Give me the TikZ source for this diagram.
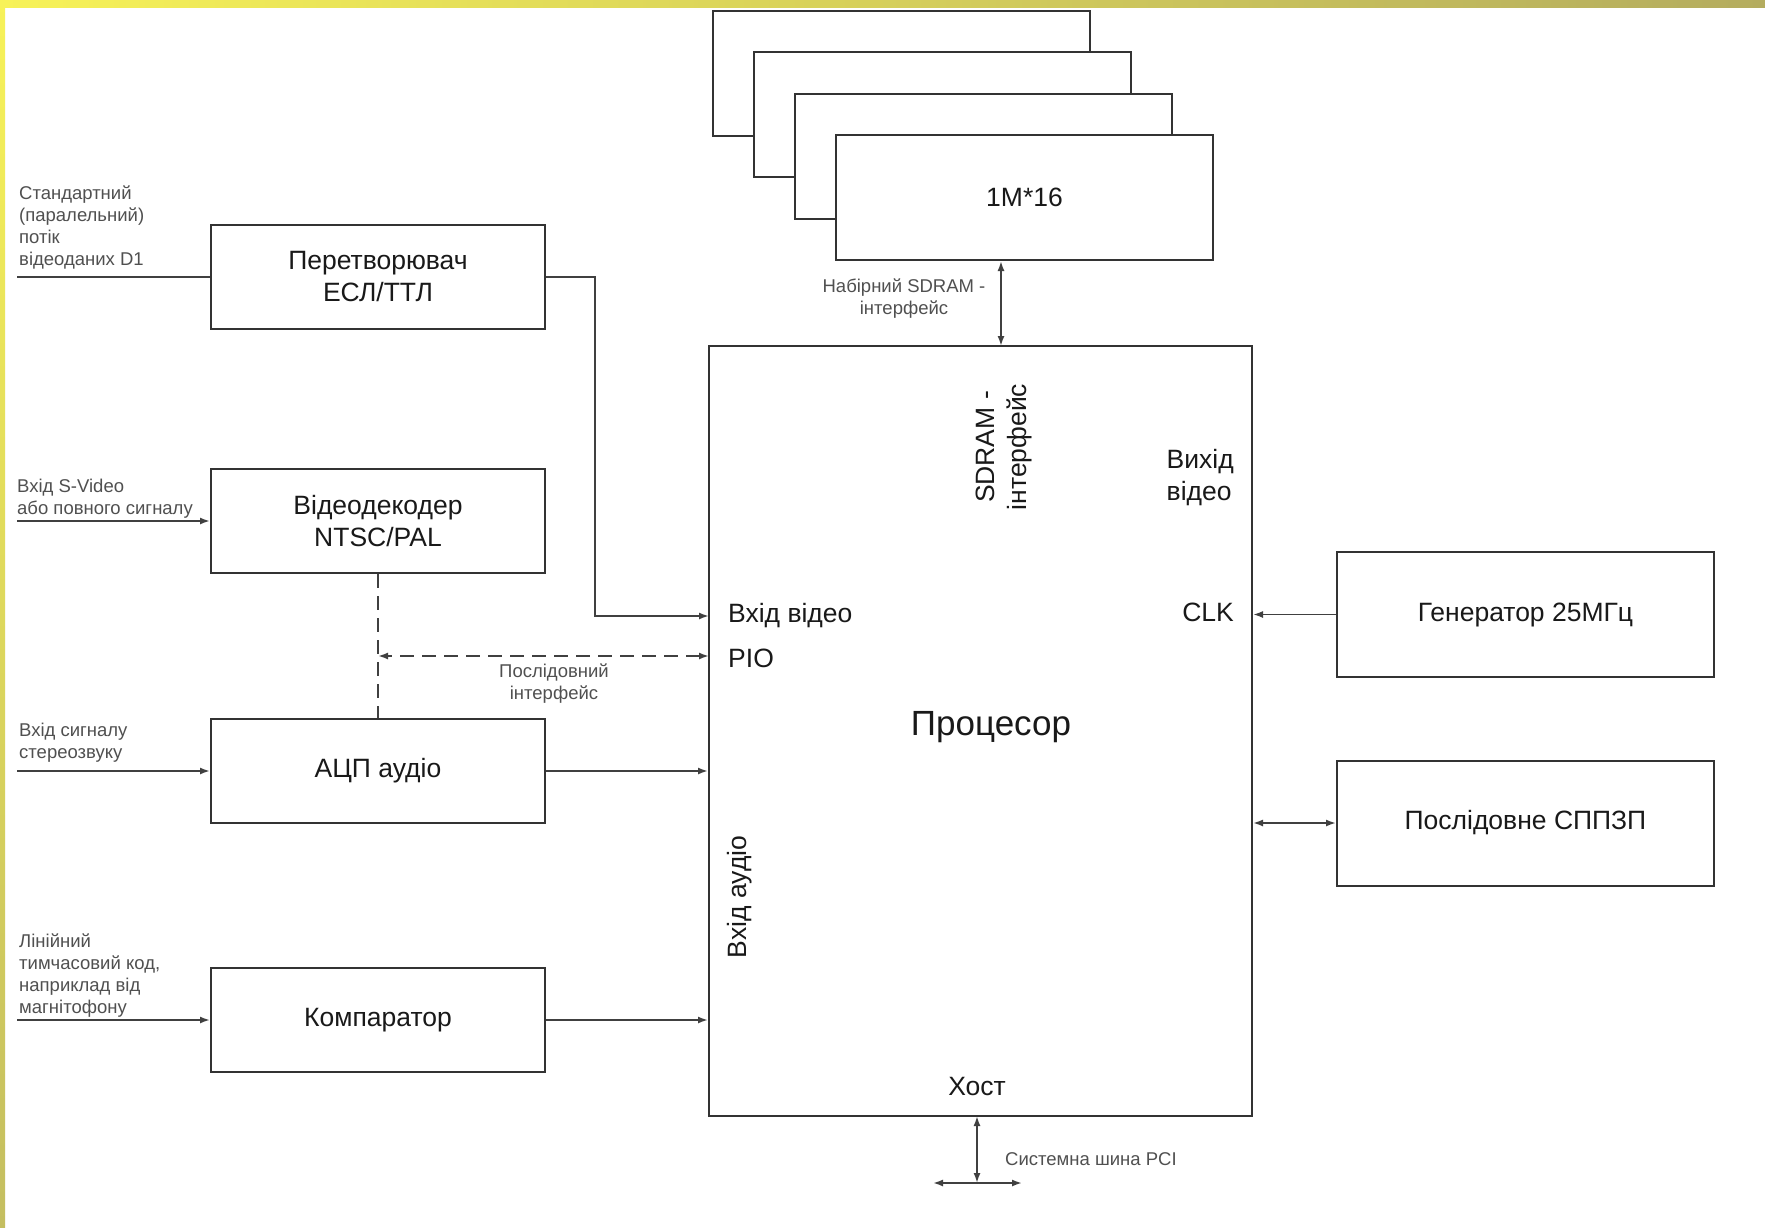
\documentclass[tikz,border=0pt]{standalone}
\usepackage{fontspec}
\setmainfont{Liberation Sans}
\usetikzlibrary{arrows.meta}
\definecolor{frameY}{RGB}{247,242,88}
\definecolor{frameO}{RGB}{180,172,95}
\definecolor{frameL}{RGB}{196,190,96}
\definecolor{lblgray}{RGB}{80,80,80}
\tikzset{
  blk/.style={draw=black!80, line width=2pt, fill=white, minimum width=334pt, minimum height=104pt,
    align=center, text=black!90, font=\fontsize{26.5}{32}\selectfont},
  memblk/.style={blk, minimum width=377pt, minimum height=125pt},
  wire/.style={draw=black!75, line width=1.8pt},
  arr/.style={wire, -{Latex[length=10pt,width=7pt]}},
  biarr/.style={wire, {Latex[length=10pt,width=7pt]}-{Latex[length=10pt,width=7pt]}},
  lbl/.style={inner sep=0pt, align=left, text=lblgray, font=\fontsize{18.5}{22}\selectfont},
  plbl/.style={inner sep=0pt, align=left, text=black!90, font=\fontsize{26.5}{32}\selectfont}
}

\begin{document}
\begin{tikzpicture}[x=1pt,y=-1pt]
\useasboundingbox (0,0) rectangle (1765,1227);
\fill[white] (0,0) rectangle (1765,1227);
\shade[left color=frameY, right color=frameO] (0,0) rectangle (1765,7); % frame.top
\shade[top color=frameY, bottom color=frameL] (0,0) rectangle (5,1227); % frame.left

% memory stack
\foreach \i in {3,2,1}
  \node[memblk] (mem\i) at (1024.5-41*\i, 197.5-41.5*\i) {};
\node[memblk] (mem0) at (1024.5, 197.5) {1M*16}; % mem.0

% processor
\node[blk, minimum width=543pt, minimum height=770pt] (proc) at (980.5, 731) {};
\node[plbl, font=\fontsize{35}{40}\selectfont] (pname) at (991, 727) {Процесор};
\node[plbl, rotate=90, align=center] (psdram) at (1004, 447) {SDRAM -\\інтерфейс};
\node[plbl, anchor=east] (pvout) at (1234, 478) {Вихід\\відео};
\node[plbl, anchor=west] (pvin) at (728, 616) {Вхід відео};
\node[plbl, anchor=west] (ppio) at (728, 658) {PIO};
\node[plbl, anchor=east] (pclk) at (1234, 612) {CLK};
\node[plbl, rotate=90] (pain) at (740, 897) {Вхід аудіо};
\node[plbl] (phost) at (977, 1086) {Хост};

% left blocks
\node[blk] (conv) at (378, 277) {Перетворювач\\ЕСЛ/ТТЛ};
\node[blk] (dec) at (378, 521) {Відеодекодер\\NTSC/PAL};
\node[blk] (adc) at (378, 771) {АЦП аудіо};
\node[blk] (comp) at (378, 1020) {Компаратор};

% right blocks
\node[memblk] (gen) at (1525.5, 614.5) {Генератор 25МГц};
\node[memblk] (eeprom) at (1525.5, 823) {Послідовне СППЗП};

% ports
\coordinate (d1in) at (17, 277);
\coordinate (svin) at (17, 521);
\coordinate (audin) at (17, 771);
\coordinate (tcin) at (17, 1020);
\coordinate (pVin) at (709, 616);
\coordinate (pPIO) at (709, 656);
\coordinate (pSD) at (1001, 346);
\coordinate (pHost) at (977, 1116);
\coordinate (bus) at (977, 1183);
\coordinate (busL) at (933, 1183);
\coordinate (busR) at (1022, 1183);

% connectors
\draw[wire] (d1in) -- (conv.west); % D1
\draw[arr] (conv.east) -- ++(49,0) |- (pVin); % conv.out
\draw[arr] (svin) -- (dec.west); % svideo
\draw[wire, dashed, dash pattern=on 14pt off 8pt] (dec.south) -- (adc.north); % dec.adc
\draw[biarr, dashed, dash pattern=on 14pt off 8pt] (pPIO) -- (pPIO -| dec.south); % serial
\draw[arr] (audin) -- (adc.west); % audio.in
\draw[arr] (adc.east) -- (proc.west |- adc.east); % audio.out
\draw[arr] (tcin) -- (comp.west); % tc.in
\draw[arr] (comp.east) -- (proc.west |- comp.east); % tc.out
\draw[arr] (gen.west) -- (proc.east |- gen.west); % clk
\draw[biarr] (eeprom.west) -- (proc.east |- eeprom.west); % eeprom
\draw[biarr] (pSD) -- (pSD |- mem0.south); % sdram
\draw[biarr] (pHost) -- (bus); % host
\draw[biarr] (busL) -- (busR); % pci

% labels
\node[lbl, anchor=west] (d1lbl) at (19, 227) {Стандартний\\(паралельний)\\потік\\відеоданих D1};
\node[lbl, anchor=west] (svlbl) at (17, 499) {Вхід S-Video\\або повного сигналу};
\node[lbl, anchor=west] (audlbl) at (19, 743) {Вхід сигналу\\стереозвуку};
\node[lbl, anchor=west] (tclbl) at (19, 976) {Лінійний\\тимчасовий код,\\наприклад від\\магнітофону};
\node[lbl, align=center] (serlbl) at (554, 684) {Послідовний\\інтерфейс};
\node[lbl, align=center] (sdlbl) at (904, 299) {Набірний SDRAM -\\інтерфейс};
\node[lbl, anchor=west] (pcilbl) at (1005, 1159) {Системна шина PCI};
\end{tikzpicture}
\end{document}
